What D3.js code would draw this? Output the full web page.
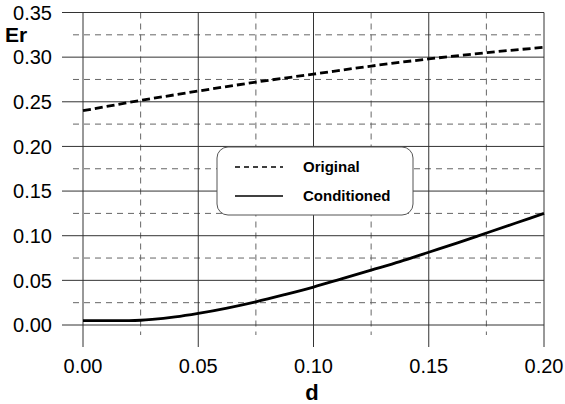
<!DOCTYPE html>
<html>
<head>
<meta charset="utf-8">
<script src="https://cdn.jsdelivr.net/npm/d3@7"></script>
<style>
  body { margin: 0; background: #fff; }
  svg { display: block; font-family: Arial, "Liberation Sans", sans-serif; }
</style>
</head>
<body>
<div id="chart"></div>
<script>
// values
const dOriginal = [0, 0.025, 0.05, 0.075, 0.1, 0.125, 0.15, 0.175, 0.2];
const erOriginal = [0.240, 0.2515, 0.262, 0.272, 0.281, 0.290, 0.298, 0.305, 0.311];

const dConditioned = [0, 0.01, 0.02, 0.025, 0.03, 0.04, 0.05, 0.0625, 0.075, 0.0875, 0.1, 0.1125, 0.125, 0.1375, 0.15, 0.1625, 0.175, 0.1875, 0.2];
const erConditioned = [0.005, 0.005, 0.005, 0.0053, 0.0062, 0.009, 0.013, 0.019, 0.026, 0.034, 0.0425, 0.052, 0.0615, 0.071, 0.0815, 0.092, 0.103, 0.114, 0.125];

const xTickValues = [0, 0.05, 0.1, 0.15, 0.2];
const xMinorValues = [0.025, 0.075, 0.125, 0.175];
const yTickValues = [0, 0.05, 0.1, 0.15, 0.2, 0.25, 0.3, 0.35];
const yMinorValues = [0.025, 0.075, 0.125, 0.175, 0.225, 0.275, 0.325];

const legendLabels = ['Original', 'Conditioned'];

const width = 565, height = 404;
const margin = { top: 12.5, right: 21, bottom: 79, left: 83 };
const innerW = width - margin.left - margin.right;
const innerH = height - margin.top - margin.bottom;

const x = d3.scaleLinear().domain([0, 0.2]).range([0, innerW]);
const y = d3.scaleLinear().domain([0, 0.35]).range([innerH, 0]);

const svg = d3.select('#chart').append('svg')
  .attr('width', width)
  .attr('height', height);

const g = svg.append('g')
  .attr('transform', `translate(${margin.left},${margin.top})`);

// minor grid (dashed) with short tick stubs outside
g.selectAll('.minor-h')
  .data(yMinorValues)
  .enter().append('line')
  .attr('x1', -10).attr('x2', innerW)
  .attr('y1', d => y(d)).attr('y2', d => y(d))
  .attr('stroke', '#666').attr('stroke-width', 1)
  .attr('stroke-dasharray', '6,5');

g.selectAll('.minor-v')
  .data(xMinorValues)
  .enter().append('line')
  .attr('x1', d => x(d)).attr('x2', d => x(d))
  .attr('y1', 0).attr('y2', innerH + 10)
  .attr('stroke', '#666').attr('stroke-width', 1)
  .attr('stroke-dasharray', '6,5');

// major grid (solid)
g.selectAll('.major-h')
  .data(yTickValues)
  .enter().append('line')
  .attr('x1', -21).attr('x2', innerW)
  .attr('y1', d => y(d)).attr('y2', d => y(d))
  .attr('stroke', '#333').attr('stroke-width', 1);

g.selectAll('.major-v')
  .data(xTickValues)
  .enter().append('line')
  .attr('x1', d => x(d)).attr('x2', d => x(d))
  .attr('y1', 0).attr('y2', innerH + 22)
  .attr('stroke', '#333').attr('stroke-width', 1);

// tick labels
g.selectAll('.y-label')
  .data(yTickValues)
  .enter().append('text')
  .attr('x', -31)
  .attr('y', d => y(d))
  .attr('dy', '0.36em')
  .attr('text-anchor', 'end')
  .style('font-size', '20px')
  .style('fill', '#000')
  .text(d3.format('.2f'));

g.selectAll('.x-label')
  .data(xTickValues)
  .enter().append('text')
  .attr('x', d => x(d))
  .attr('y', innerH + 48)
  .attr('text-anchor', 'middle')
  .style('font-size', '20px')
  .style('fill', '#000')
  .text(d3.format('.2f'));

// axis titles
svg.append('text')
  .attr('x', 312)
  .attr('y', 400)
  .attr('text-anchor', 'middle')
  .style('font-size', '22px')
  .style('font-weight', 'bold')
  .text('d');

svg.append('text')
  .attr('x', 5)
  .attr('y', 42)
  .style('font-size', '21px')
  .style('font-weight', 'bold')
  .text('Er');

// lines
const line = d3.line()
  .x(d => x(d[0]))
  .y(d => y(d[1]))
  .curve(d3.curveMonotoneX);

g.append('path')
  .datum(dOriginal.map((d, i) => [d, erOriginal[i]]))
  .attr('fill', 'none')
  .attr('stroke', '#000')
  .attr('stroke-width', 2.8)
  .attr('stroke-dasharray', '8,4')
  .attr('d', line);

g.append('path')
  .datum(dConditioned.map((d, i) => [d, erConditioned[i]]))
  .attr('fill', 'none')
  .attr('stroke', '#000')
  .attr('stroke-width', 2.8)
  .attr('d', line);

// legend
const legend = svg.append('g').attr('transform', 'translate(217,147)');
legend.append('rect')
  .attr('width', 196).attr('height', 68)
  .attr('rx', 11).attr('ry', 11)
  .attr('fill', '#fff')
  .attr('stroke', '#555').attr('stroke-width', 1);

legendLabels.forEach((label, i) => {
  const ly = 20 + i * 29;
  legend.append('line')
    .attr('x1', 18).attr('x2', 66)
    .attr('y1', ly).attr('y2', ly)
    .attr('stroke', '#000')
    .attr('stroke-width', 1.6)
    .attr('stroke-dasharray', i === 0 ? '5,4' : null);
  legend.append('text')
    .attr('x', 86).attr('y', ly)
    .attr('dy', '0.35em')
    .style('font-size', '15px')
    .style('font-weight', 'bold')
    .text(label);
});
</script>
</body>
</html>
